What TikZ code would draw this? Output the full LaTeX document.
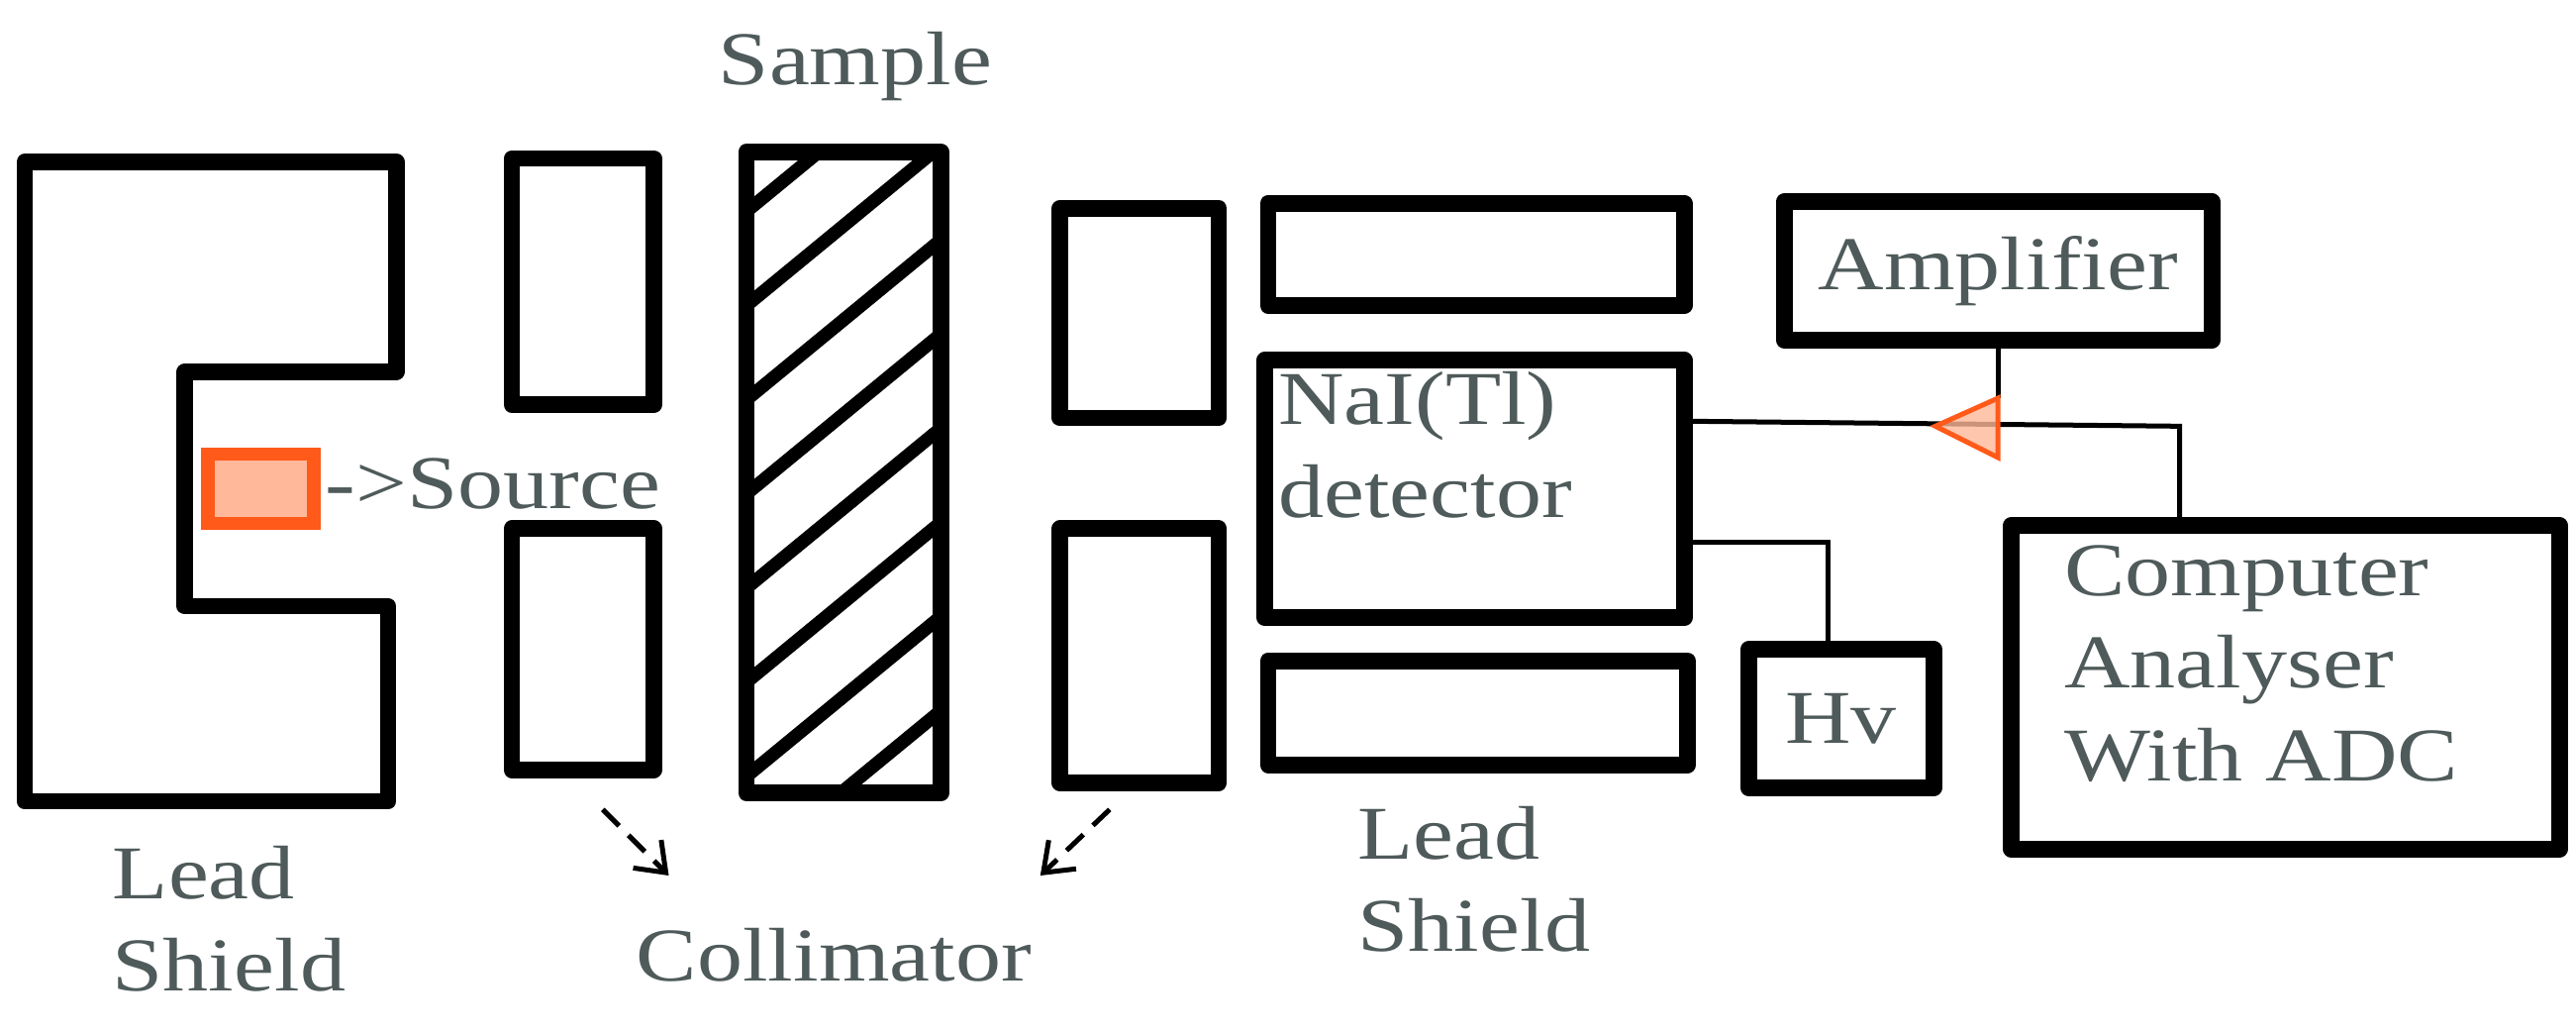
\documentclass[tikz,border=0pt]{standalone}
\usepackage{fontspec}
\setmainfont{Liberation Serif}[FakeStretch=1.2]
\usetikzlibrary{arrows.meta}
\definecolor{txt}{HTML}{4F5A5A}
\definecolor{orng}{HTML}{FF5A1A}
\definecolor{orfill}{HTML}{FFB89A}
\begin{document}
\begin{tikzpicture}[x=1pt,y=-1pt,
  box/.style={draw=black,line width=10pt,line join=round},
  lbl/.style={text=txt,font=\fontsize{46}{56}\selectfont,align=left,inner sep=0pt},
  wire/.style={draw=black,line width=3pt},
  dasharr/.style={draw=black,line width=3pt,dash pattern=on 14pt off 8pt,-{Straight Barb[length=16pt,width=24pt,line width=3pt]}}]
\useasboundingbox (0,0) rectangle (1560,625);
% left lead shield
\draw[box] (15,98) -- (240,98) -- (240,225) -- (112,225) -- (112,367) -- (235,367) -- (235,485) -- (15,485) -- cycle;
\node[draw=orng,fill=orfill,line width=8pt,minimum width=64pt,minimum height=42pt,anchor=center] (src) at (158,296) {};
\node[lbl,anchor=west] (srct) at (197,293) {->Source};
% collimators
\node[box,minimum width=86pt,minimum height=149pt] (c1) at (353,170.5) {};
\node[box,minimum width=86pt,minimum height=146pt] (c2) at (353,393) {};
\node[box,minimum width=96pt,minimum height=127pt] (c3) at (690,189.5) {};
\node[box,minimum width=96pt,minimum height=154pt] (c4) at (690,397) {};
% sample
\begin{scope}
\clip (452,92) rectangle (570,480);
\foreach \k in {0,...,8}{
  \draw[line width=8pt] (452,{128+57*\k}) -- (570,{128+57*\k-97});
}
\end{scope}
\node[box,minimum width=118pt,minimum height=388pt] (smp) at (511,286) {};
\node[lbl,anchor=center] (smpt) at (518,40) {Sample};
% right shield and detector
\node[box,minimum width=252pt,minimum height=62pt] (s1) at (894,154) {};
\node[box,minimum width=254pt,minimum height=156pt] (nai) at (893,296) {};
\node[box,minimum width=254pt,minimum height=63pt] (s2) at (895,431.5) {};
\node[lbl,anchor=north west] (nait) at (774,225) {NaI(Tl)\\detector};
\node[box,minimum width=259pt,minimum height=84pt] (amp) at (1210,164) {};
\node[lbl] at (amp.center) {Amplifier};
\node[box,minimum width=112pt,minimum height=84pt] (hv) at (1115,435) {};
\node[lbl] at (hv.center) {Hv};
\node[box,minimum width=332pt,minimum height=196pt] (cmp) at (1384,416) {};
\node[lbl,anchor=north west] (cmpt) at (1250,330) {Computer\\Analyser\\With ADC};
% wires
\coordinate (j1) at (1320,258);
\draw[wire] (nai.east |- 0,255) -- (j1) -- (cmp.north -| j1);
\coordinate (tri) at (1210,241);
\draw[wire] (amp.south -| tri) -- (tri);
\coordinate (hj) at (1107,328);
\draw[wire] (nai.east |- hj) -- (hj) -- (hv.north -| hj);
\draw[draw=orng,fill=orfill,fill opacity=0.8,line width=3pt,line join=miter] (1210,241) -- (1172,258) -- (1210,277) -- cycle;
% arrows & labels
\coordinate (a1s) at (365,490); \coordinate (a1e) at (405,530);
\coordinate (a2s) at (672,490); \coordinate (a2e) at (630,530);
\draw[dasharr] (a1s) -- (a1e);
\draw[dasharr] (a2s) -- (a2e);
\node[lbl,anchor=north west] (ls1) at (68,512) {Lead\\Shield};
\node[lbl,anchor=center] (col) at (505,578) {Collimator};
\node[lbl,anchor=north west] (ls2) at (822,488) {Lead\\Shield};
\end{tikzpicture}
\end{document}
